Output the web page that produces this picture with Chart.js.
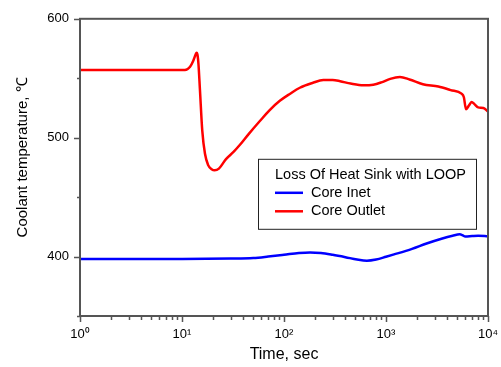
<!DOCTYPE html>
<html>
<head>
<meta charset="utf-8">
<script src="https://cdn.jsdelivr.net/npm/chart.js@4"></script>
<style>
  html, body { margin: 0; padding: 0; background: #fff; }
</style>
</head>
<body>
<canvas id="tempChart" width="501" height="367"></canvas>
<script>
// core inlet temperature
const inletTime = [1, 10, 30, 50, 70, 100, 140, 180, 230, 300, 400, 520, 650, 800, 1000, 1200, 1800, 2500, 3500, 4500, 5300, 5600, 6000, 7000, 8000, 10000];
const inletTemp = [398, 398, 398.3, 398.8, 400, 401.5, 403, 403.5, 403, 401.5, 399.5, 397.5, 396.5, 397.5, 399.8, 401.8, 406.5, 411, 415, 417.5, 418.7, 418, 416.8, 417.3, 417.6, 417];

// core outlet temperature
const outletTime = [1, 10.7, 12, 12.9, 13.6, 13.9, 14.2, 14.5, 15, 15.8, 16.8, 18.1, 19.5, 20.9, 23, 27, 32, 37, 45, 58, 72, 91, 115, 143, 190, 243, 300, 355, 450, 600, 750, 900, 1100, 1370, 1700, 2300, 3260, 4300, 5500, 5800, 6085, 6500, 6900, 7400, 8000, 9000, 10000];
const outletTemp = [557, 557, 559.7, 564.8, 570, 571.5, 569.5, 562, 540, 506, 486.5, 476.7, 473.5, 472.5, 474, 482, 488, 494, 503, 514, 523, 531, 537, 542, 546, 548.5, 548.5, 547.5, 545.5, 544, 544.5, 546.5, 549.5, 551, 549, 545, 543, 540, 537, 534, 524, 527, 530, 528, 525.5, 525, 522];

const seriesNames = ['Core Inet', 'Core Outlet'];
const seriesColors = ['#0000ff', '#ff0000'];
const legendTitle = 'Loss Of Heat Sink with LOOP';
const yTitle = 'Coolant temperature, \u2103';

const xDecades = [1, 10, 100, 1000, 10000];
const yTicks = [350, 400, 450, 500, 550, 600];
const yLabels = [400, 500, 600];

const sup = ['\u2070', '\u00b9', '\u00b2', '\u00b3', '\u2074'];
const FONT = '"Liberation Sans", Arial, sans-serif';
const AXIS = '#555';

const zip = (xs, ys) => xs.map((x, i) => ({ x: x, y: ys[i] }));

// frame, tick marks, y title and the boxed legend
const decorations = {
  id: 'decorations',
  afterDraw(chart) {
    const { ctx, chartArea: a, scales: { x, y } } = chart;
    ctx.save();
    ctx.strokeStyle = AXIS;
    ctx.lineWidth = 2;
    ctx.strokeRect(a.left, a.top, a.right - a.left, a.bottom - a.top);

    ctx.lineWidth = 1.5;
    ctx.beginPath();
    yTicks.forEach(v => {
      const py = Math.round(y.getPixelForValue(v)) + 0.5;
      const len = yLabels.includes(v) ? 6 : 3;
      ctx.moveTo(a.left - len, py);
      ctx.lineTo(a.left, py);
    });
    xDecades.forEach((d, i) => {
      for (let k = 1; k < 10; k++) {
        if (i === xDecades.length - 1 && k > 1) break;
        const px = Math.round(x.getPixelForValue(d * k)) + 0.5;
        const len = k === 1 ? 6 : 4;
        ctx.moveTo(px, a.bottom);
        ctx.lineTo(px, a.bottom + len);
      }
    });
    ctx.stroke();

    // rotated y title, sitting a little above the axis middle
    ctx.save();
    ctx.translate(23, (a.top + a.bottom) / 2 - 10);
    ctx.rotate(-Math.PI / 2);
    ctx.fillStyle = '#000';
    ctx.font = '15px ' + FONT;
    ctx.textAlign = 'center';
    ctx.textBaseline = 'middle';
    ctx.fillText(yTitle, 0, 0);
    ctx.restore();

    // legend box
    const lx = a.left + 178, ly = a.top + 140, lw = 218, lh = 70;
    ctx.strokeStyle = '#222';
    ctx.lineWidth = 1;
    ctx.strokeRect(lx + 0.5, ly + 0.5, lw, lh);
    ctx.fillStyle = '#000';
    ctx.font = '14.5px ' + FONT;
    ctx.textBaseline = 'middle';
    ctx.textAlign = 'left';
    ctx.fillText(legendTitle, lx + 17, ly + 16);
    chart.data.datasets.forEach((ds, i) => {
      const cy = ly + 34 + i * 18.5;
      ctx.strokeStyle = ds.borderColor;
      ctx.lineWidth = 2.5;
      ctx.beginPath();
      ctx.moveTo(lx + 17, cy);
      ctx.lineTo(lx + 45, cy);
      ctx.stroke();
      ctx.fillText(ds.label, lx + 53, cy);
    });
    ctx.restore();
  }
};

new Chart(document.getElementById('tempChart'), {
  type: 'line',
  data: {
    datasets: [
      { label: seriesNames[0], data: zip(inletTime, inletTemp), borderColor: seriesColors[0] },
      { label: seriesNames[1], data: zip(outletTime, outletTemp), borderColor: seriesColors[1] }
    ]
  },
  options: {
    responsive: false,
    animation: false,
    devicePixelRatio: 1,
    layout: { padding: { top: 18, right: 13, left: 0, bottom: 0 } },
    elements: {
      point: { radius: 0 },
      line: { borderWidth: 2.5, cubicInterpolationMode: 'monotone', fill: false }
    },
    plugins: {
      legend: { display: false },
      tooltip: { enabled: false }
    },
    scales: {
      x: {
        type: 'logarithmic',
        min: 1,
        max: 10000,
        afterBuildTicks: s => { s.ticks = xDecades.map(v => ({ value: v })); },
        afterFit: s => {
          s.height = 51;
          s.paddingLeft = 0;
          s.paddingRight = 0;
        },
        grid: { display: false, drawTicks: false, tickLength: 0 },
        border: { display: false },
        ticks: {
          autoSkip: false,
          maxRotation: 0,
          padding: 11,
          color: '#000',
          font: { family: FONT, size: 13 },
          callback: v => '10' + sup[Math.round(Math.log10(v))]
        },
        title: {
          display: true,
          text: 'Time, sec',
          color: '#000',
          font: { family: FONT, size: 16 },
          padding: { top: 0, bottom: 3 }
        }
      },
      y: {
        min: 350,
        max: 600,
        afterBuildTicks: s => { s.ticks = yTicks.map(v => ({ value: v })); },
        afterFit: s => { s.width = 80; },
        grid: { display: false, drawTicks: false, tickLength: 0 },
        border: { display: false },
        ticks: {
          autoSkip: false,
          padding: 11,
          color: '#000',
          font: { family: FONT, size: 13 },
          callback: v => yLabels.includes(v) ? String(v) : ''
        }
      }
    }
  },
  plugins: [decorations]
});
</script>
</body>
</html>
